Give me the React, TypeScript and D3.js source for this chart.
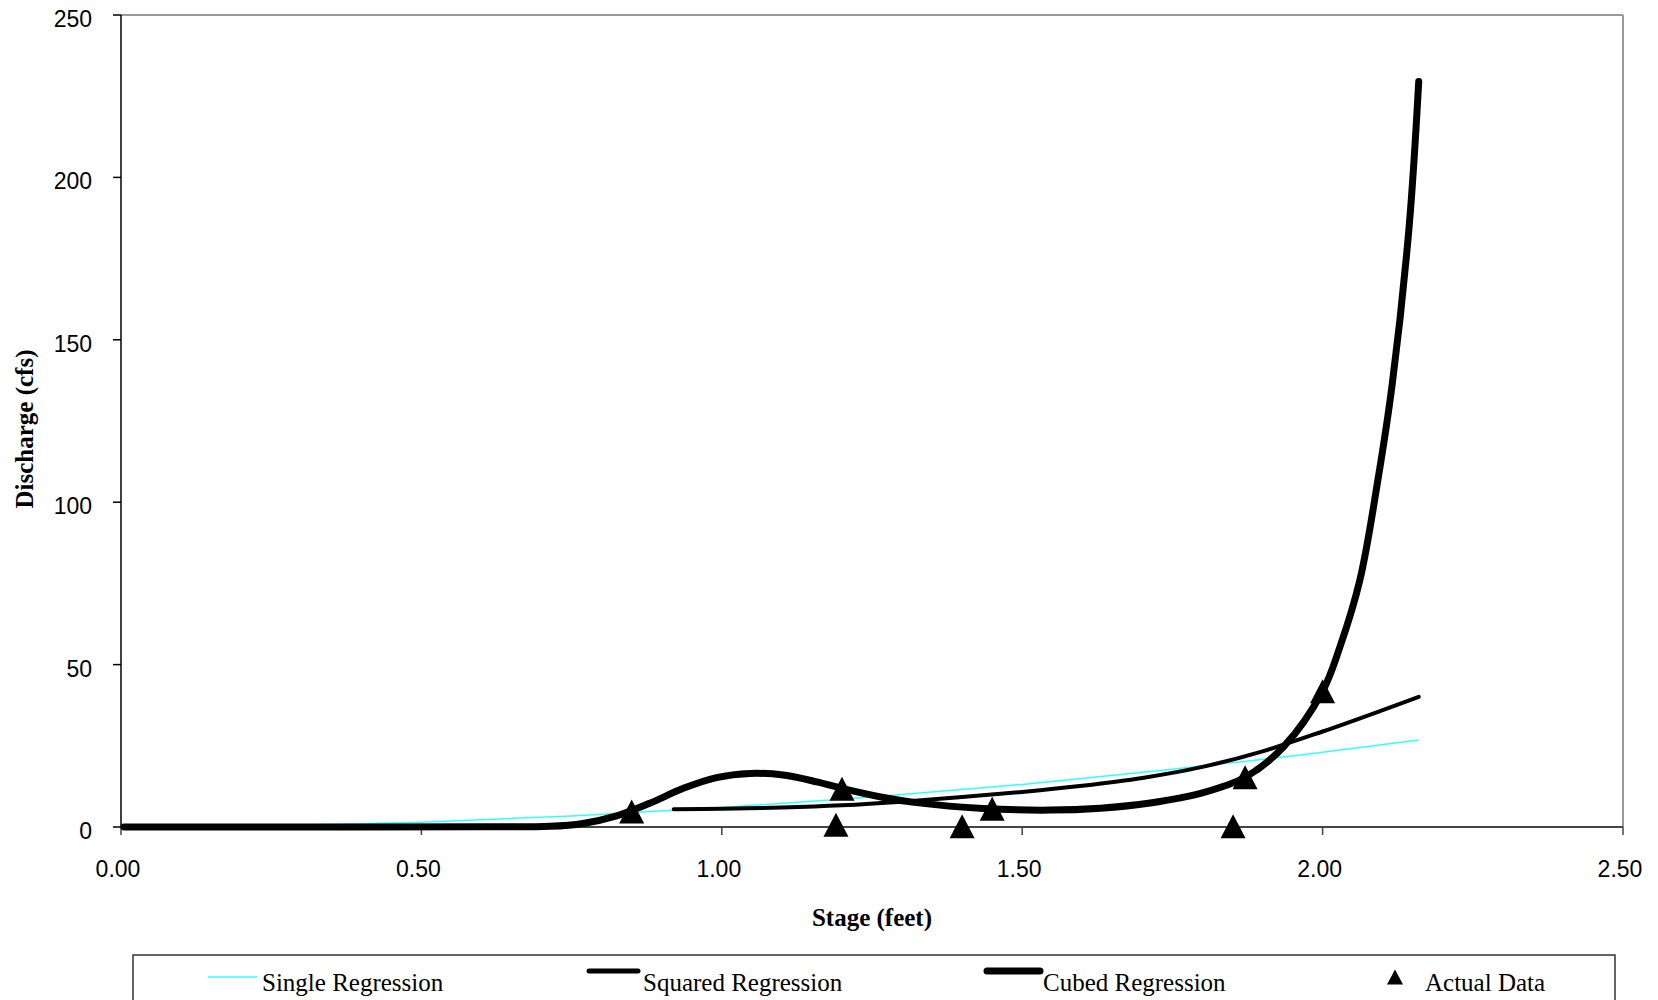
import React from "react";
import * as d3 from "d3";

const xTicks = [0, 0.5, 1.0, 1.5, 2.0, 2.5];
const yTicks = [0, 50, 100, 150, 200, 250];

const singleX = [0.01, 0.25, 0.5, 0.75, 1.0, 1.25, 1.5, 1.75, 2.0, 2.16];
const singleY = [0.0, 0.4, 1.5, 3.4, 6.0, 9.2, 13.1, 17.8, 23.0, 26.8];

const squaredX = [0.92, 1.0, 1.1, 1.2, 1.3, 1.4, 1.5, 1.6, 1.7, 1.8, 1.9, 2.0, 2.1, 2.16];
const squaredY = [5.5, 5.6, 6.0, 6.7, 7.8, 9.2, 10.8, 12.7, 15.1, 18.5, 23.3, 29.4, 36.0, 40.1];

const cubedX = [0.005, 0.3, 0.6, 0.714, 0.769, 0.825, 0.88, 0.936, 0.991, 1.047, 1.102, 1.158, 1.2, 1.269, 1.324, 1.435, 1.546, 1.63, 1.713, 1.8, 1.871, 1.935, 2.0, 2.029, 2.062, 2.092, 2.116, 2.144, 2.16];
const cubedY = [0, 0, 0.05, 0.2, 1.1, 3.4, 7.3, 11.9, 15.2, 16.5, 16.0, 13.9, 11.9, 9.1, 7.5, 5.7, 5.2, 5.8, 7.4, 10.5, 15.3, 24.7, 41.8, 55.5, 76, 106.8, 136.5, 184.8, 229.5];

const actualX = [0.85, 1.2, 1.19, 1.4, 1.45, 1.871, 1.851, 2.0];
const actualY = [4.8, 11.8, 0.7, 0.25, 5.6, 15.3, 0.2, 41.8];

const W = 1658;
const H = 1000;
const L = 121, R = 1623, T = 15, B = 827;

export default function App() {
  const x = d3.scaleLinear().domain([0, 2.5]).range([L, R]);
  const y = d3.scaleLinear().domain([0, 250]).range([B, T]);
  const mkLine = (curve: d3.CurveFactory) =>
    d3
      .line<[number, number]>()
      .x((d) => x(d[0]))
      .y((d) => y(d[1]))
      .curve(curve);
  const monoLine = mkLine(d3.curveMonotoneX);
  const smoothLine = mkLine(d3.curveCatmullRom.alpha(0.5));
  const zip = (a: number[], b: number[]) => a.map((v, i) => [v, b[i]] as [number, number]);
  const tri = (cx: number, cy: number, w: number, h: number) =>
    `M${cx},${cy - h / 2}L${cx + w / 2},${cy + h / 2}L${cx - w / 2},${cy + h / 2}Z`;
  const fmt = d3.format(".2f");
  const legendTextY = 991;
  const serif = "'Liberation Serif', 'Times New Roman', serif";
  const sans = "'Liberation Sans', Arial, sans-serif";

  return (
    <svg
      width={W}
      height={H}
      style={{ position: "absolute", left: 0, top: 0, background: "#fff" }}
    >
      <rect x={0} y={0} width={W} height={H} fill="#fff" />
      <line x1={L} y1={T} x2={R} y2={T} stroke="#999" strokeWidth={2} />
      <line x1={R} y1={T} x2={R} y2={B} stroke="#999" strokeWidth={2} />
      <line x1={L} y1={T} x2={L} y2={B} stroke="#000" strokeWidth={1.5} />
      <line x1={L} y1={B} x2={R} y2={B} stroke="#444" strokeWidth={2} />
      {yTicks.map((t) => (
        <g key={"y" + t}>
          <line x1={L - 8} x2={L} y1={y(t)} y2={y(t)} stroke="#000" strokeWidth={1.5} />
          <text x={92} y={y(t) + 12} textAnchor="end" fontFamily={sans} fontSize={23} fill="#000">
            {t}
          </text>
        </g>
      ))}
      {xTicks.map((t) => (
        <g key={"x" + t}>
          <line x1={x(t)} x2={x(t)} y1={B} y2={B + 8} stroke="#444" strokeWidth={1.5} />
          <text x={x(t) - 3} y={877} textAnchor="middle" fontFamily={sans} fontSize={23} fill="#000">
            {fmt(t)}
          </text>
        </g>
      ))}
      <text
        x={(L + R) / 2}
        y={926}
        textAnchor="middle"
        fontFamily={serif}
        fontWeight="bold"
        fontSize={25}
      >
        Stage (feet)
      </text>
      <text
        transform={`translate(33, 429) rotate(-90)`}
        textAnchor="middle"
        fontFamily={serif}
        fontWeight="bold"
        fontSize={25}
      >
        Discharge (cfs)
      </text>

      <path d={monoLine(zip(singleX, singleY)) || ""} fill="none" stroke="#33ffff" strokeWidth={1.5} />
      <path
        d={smoothLine(zip(squaredX, squaredY)) || ""}
        fill="none"
        stroke="#000"
        strokeWidth={4}
        strokeLinecap="round"
      />
      <path
        d={smoothLine(zip(cubedX, cubedY)) || ""}
        fill="none"
        stroke="#000"
        strokeWidth={7}
        strokeLinecap="round"
        strokeLinejoin="round"
      />
      {actualX.map((v, i) => (
        <path key={"a" + i} d={tri(x(v), y(actualY[i]), 25, 24)} fill="#000" />
      ))}

      <rect x={133} y={955} width={1482} height={60} fill="#fff" stroke="#333" strokeWidth={1.5} />
      <line x1={208} x2={257} y1={977} y2={977} stroke="#33ffff" strokeWidth={1.5} />
      <text x={262} y={legendTextY} fontFamily={serif} fontSize={25}>
        Single Regression
      </text>
      <line x1={589} x2={638} y1={971} y2={971} stroke="#000" strokeWidth={5} strokeLinecap="round" />
      <text x={643} y={legendTextY} fontFamily={serif} fontSize={25}>
        Squared Regression
      </text>
      <line x1={987} x2={1040} y1={971} y2={971} stroke="#000" strokeWidth={7} strokeLinecap="round" />
      <text x={1043} y={legendTextY} fontFamily={serif} fontSize={25}>
        Cubed Regression
      </text>
      <path d={tri(1395, 977, 16, 15)} fill="#000" />
      <text x={1425} y={legendTextY} fontFamily={serif} fontSize={25}>
        Actual Data
      </text>
    </svg>
  );
}
